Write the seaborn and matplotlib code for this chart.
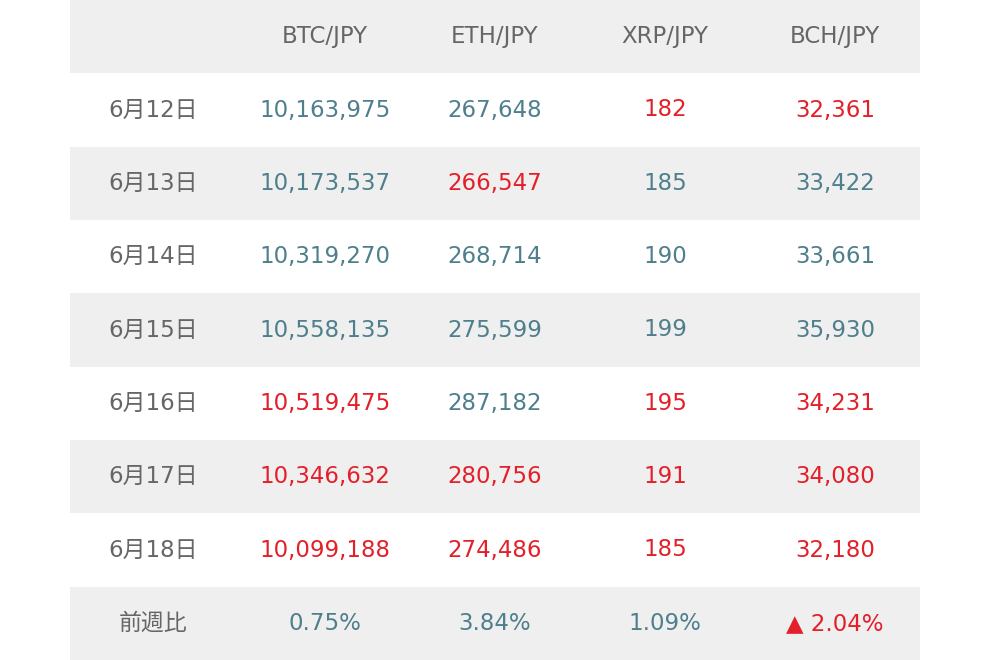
import matplotlib
matplotlib.use("Agg")
import matplotlib.pyplot as plt
import seaborn as sns

sns.set_theme(style="white")
plt.rcParams['font.family'] = ['DejaVu Sans', 'Noto Sans CJK JP']

pairs = ["BTC/JPY", "ETH/JPY", "XRP/JPY", "BCH/JPY"]
dates = ["6月12日", "6月13日", "6月14日", "6月15日", "6月16日", "6月17日", "6月18日"]
btc = ["10,163,975", "10,173,537", "10,319,270", "10,558,135", "10,519,475", "10,346,632", "10,099,188"]
eth = ["267,648", "266,547", "268,714", "275,599", "287,182", "280,756", "274,486"]
xrp = ["182", "185", "190", "199", "195", "191", "185"]
bch = ["32,361", "33,422", "33,661", "35,930", "34,231", "34,080", "32,180"]
# 1 = down (red), 0 = up (teal)
btc_dn = [0, 0, 0, 0, 1, 1, 1]
eth_dn = [0, 1, 0, 0, 0, 1, 1]
xrp_dn = [1, 0, 0, 0, 1, 1, 1]
bch_dn = [1, 0, 0, 0, 1, 1, 1]
weekly_label = "前週比"
weekly = ["0.75%", "3.84%", "1.09%", "▲ 2.04%"]
weekly_dn = [0, 0, 0, 1]

TEAL = "#4e7f8c"
RED = "#e3202a"
GRAY_TXT = "#666666"
BG_GRAY = "#efefef"

fig = plt.figure(figsize=(9.9, 6.6), dpi=100)
ax = fig.add_axes([0, 0, 1, 1])
ax.set_xlim(0, 990)
ax.set_ylim(660, 0)
ax.axis("off")

nrows = len(dates) + 2
rh = 660 / nrows
x0, cw = 70, 170
centers = [x0 + cw * (i + 0.5) for i in range(5)]
centers[0] -= 2
bgs = [BG_GRAY if i % 2 == 0 else "white" for i in range(nrows)]
ax.barh([rh * (i + 0.5) for i in range(nrows)], [cw * 5] * nrows, height=rh,
        left=x0, color=bgs, edgecolor="none")

fs = 16.5
kw = dict(ha="center", va="center", fontsize=fs)
for j, p in enumerate(pairs):
    ax.text(centers[j + 1], rh * 0.5, p, color=GRAY_TXT, **kw)

cols = [btc, eth, xrp, bch]
dns = [btc_dn, eth_dn, xrp_dn, bch_dn]
for i, d in enumerate(dates):
    y = rh * (i + 1.5)
    ax.text(centers[0], y, d, color=GRAY_TXT, **kw)
    for j in range(4):
        ax.text(centers[j + 1], y, cols[j][i], color=RED if dns[j][i] else TEAL, **kw)

y = rh * (nrows - 0.5)
ax.text(centers[0], y, weekly_label, color=GRAY_TXT, **kw)
for j in range(4):
    ax.text(centers[j + 1], y, weekly[j], color=RED if weekly_dn[j] else TEAL, **kw)

fig.savefig("out.png", dpi=100)
